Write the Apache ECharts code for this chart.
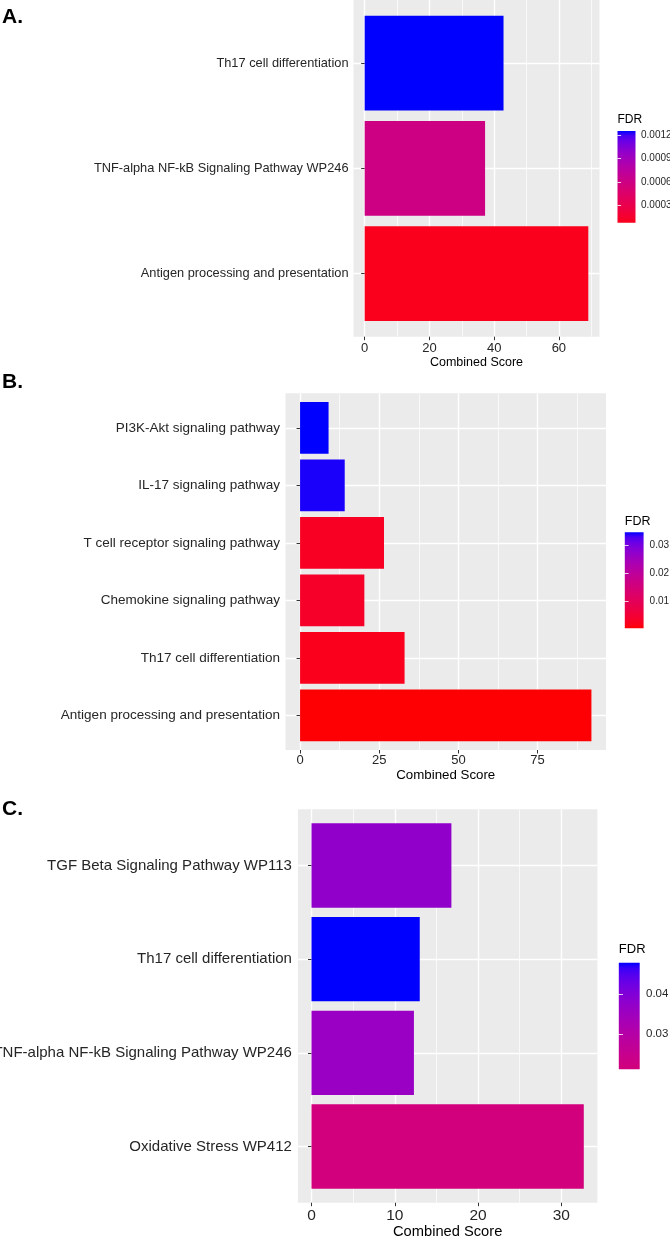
<!DOCTYPE html>
<html>
<head>
<meta charset="utf-8">
<title>Combined Score / FDR</title>
<script src="https://cdn.jsdelivr.net/npm/echarts@6.0.0/dist/echarts.min.js"></script>
<style>
  html, body { margin: 0; padding: 0; background: #fff; }
  #chart { width: 670px; height: 1239px; }
</style>
</head>
<body>
<div id="chart"></div>
<script>
// ---- data ----
// panel A
const aCategories = ['Th17 cell differentiation', 'TNF-alpha NF-kB Signaling Pathway WP246', 'Antigen processing and presentation'];
const aScores = [42.9, 37.2, 69.1];
const aFdr = [0.00126, 0.00060, 0.00007];
const aScoreTicks = [0, 20, 40, 60];
const aScoreMinor = [10, 30, 50, 70];
const aFdrTicks = [0.0003, 0.0006, 0.0009, 0.0012];

// panel B
const bCategories = ['PI3K-Akt signaling pathway', 'IL-17 signaling pathway', 'T cell receptor signaling pathway',
  'Chemokine signaling pathway', 'Th17 cell differentiation', 'Antigen processing and presentation'];
const bScores = [9.0, 14.1, 26.5, 20.3, 33.0, 92.0];
const bFdr = [0.0345, 0.0339, 0.0027, 0.0035, 0.0020, 0.00025];
const bScoreTicks = [0, 25, 50, 75];
const bScoreMinor = [12.5, 37.5, 62.5, 87.5];
const bFdrTicks = [0.01, 0.02, 0.03];

// panel C
const cCategories = ['TGF Beta Signaling Pathway WP113', 'Th17 cell differentiation',
  'TNF-alpha NF-kB Signaling Pathway WP246', 'Oxidative Stress WP412'];
const cScores = [16.8, 13.0, 12.3, 32.7];
const cFdr = [0.0375, 0.0478, 0.0360, 0.0212];
const cScoreTicks = [0, 10, 20, 30];
const cScoreMinor = [5, 15, 25];
const cFdrTicks = [0.03, 0.04];

const FONT = '"Liberation Sans", Arial, Helvetica, sans-serif';
const PANEL_BG = '#EBEBEB';
const TEXT = '#262626';

// red -> blue gradient interpolated in Lab (like ggplot's scale_fill_gradient)
function toLin(c) { c /= 255; return c <= 0.04045 ? c / 12.92 : Math.pow((c + 0.055) / 1.055, 2.4); }
function fromLin(c) {
  c = c <= 0.0031308 ? 12.92 * c : 1.055 * Math.pow(c, 1 / 2.4) - 0.055;
  return Math.round(Math.max(0, Math.min(1, c)) * 255);
}
function rgbToLab(rgb) {
  const r = toLin(rgb[0]), g = toLin(rgb[1]), b = toLin(rgb[2]);
  const f = t => t > 0.008856 ? Math.cbrt(t) : 7.787 * t + 16 / 116;
  const fx = f((0.4124 * r + 0.3576 * g + 0.1805 * b) / 0.95047);
  const fy = f(0.2126 * r + 0.7152 * g + 0.0722 * b);
  const fz = f((0.0193 * r + 0.1192 * g + 0.9505 * b) / 1.08883);
  return [116 * fy - 16, 500 * (fx - fy), 200 * (fy - fz)];
}
function labToHex(lab) {
  const fy = (lab[0] + 16) / 116, fx = fy + lab[1] / 500, fz = fy - lab[2] / 200;
  const inv = t => t * t * t > 0.008856 ? t * t * t : (t - 16 / 116) / 7.787;
  const X = 0.95047 * inv(fx), Y = inv(fy), Z = 1.08883 * inv(fz);
  const rgb = [
    fromLin(3.2406 * X - 1.5372 * Y - 0.4986 * Z),
    fromLin(-0.9689 * X + 1.8758 * Y + 0.0415 * Z),
    fromLin(0.0557 * X - 0.2040 * Y + 1.0570 * Z)
  ];
  return '#' + rgb.map(v => v.toString(16).padStart(2, '0')).join('');
}
const LOW = rgbToLab([255, 0, 0]);
const HIGH = rgbToLab([0, 0, 255]);
function fdrColor(t) {
  return labToHex(LOW.map((v, i) => v + (HIGH[i] - v) * t));
}
const ramp = [];
for (let i = 0; i <= 20; i++) ramp.push(fdrColor(i / 20));

// ---- layout per panel ----
const panels = [
  {
    cats: aCategories, scores: aScores, fdr: aFdr, ticks: aScoreTicks, minor: aScoreMinor, fdrTicks: aFdrTicks,
    letter: 'A.', letterTop: 7,
    box: { left: 353.5, top: 0, width: 246, height: 336.7 },
    legend: { left: 617.5, top: 131, width: 18, height: 91.7 }, legendTitleTop: 114,
    font: { y: 12.8, x: 13, name: 12.5, leg: 10, legTitle: 12 },
    gap: { y: 5, x: 5, name: 19, leg: 5.5 }
  },
  {
    cats: bCategories, scores: bScores, fdr: bFdr, ticks: bScoreTicks, minor: bScoreMinor, fdrTicks: bFdrTicks,
    letter: 'B.', letterTop: 372,
    box: { left: 285.5, top: 393.3, width: 320.5, height: 356.7 },
    legend: { left: 624.8, top: 532.3, width: 18.8, height: 96 }, legendTitleTop: 515,
    font: { y: 13.5, x: 13, name: 13.3, leg: 10, legTitle: 12.5 },
    gap: { y: 5.5, x: 4, name: 19, leg: 6 }
  },
  {
    cats: cCategories, scores: cScores, fdr: cFdr, ticks: cScoreTicks, minor: cScoreMinor, fdrTicks: cFdrTicks,
    letter: 'C.', letterTop: 799,
    box: { left: 297.9, top: 809.3, width: 299.5, height: 393.4 },
    legend: { left: 618.8, top: 962.7, width: 20.9, height: 106.6 }, legendTitleTop: 943,
    font: { y: 15, x: 15.5, name: 14.7, leg: 11.5, legTitle: 13 },
    gap: { y: 6, x: 5, name: 22, leg: 6.3 }
  }
];

const option = {
  animation: false,
  backgroundColor: '#fff',
  textStyle: { fontFamily: FONT },
  title: [], grid: [], xAxis: [], yAxis: [], series: [], visualMap: []
};

panels.forEach((p, k) => {
  const g = k * 3;
  const ax = k * 4;
  const n = p.cats.length;
  const maxScore = Math.max(...p.scores);
  const xMin = -0.05 * maxScore;
  const xMax = 1.05 * maxScore;
  const unit = p.box.height / (n + 0.2);
  const fdrMin = Math.min(...p.fdr);
  const fdrMax = Math.max(...p.fdr);
  const idx = p.cats.map((c, i) => i + 1);

  // colour bar: only the data range, coloured on the 0..max scale
  const stops = [];
  for (let i = 0; i <= 20; i++) {
    const v = fdrMin + (fdrMax - fdrMin) * i / 20;
    stops.push({ offset: i / 20, color: fdrColor(v / fdrMax) });
  }

  option.grid.push(
    { left: p.box.left, top: p.box.top, width: p.box.width, height: p.box.height,
      show: true, backgroundColor: PANEL_BG, borderWidth: 0, containLabel: false, outerBoundsMode: 'none' },
    { left: p.box.left, top: p.box.top + 0.1 * unit, width: p.box.width, height: n * unit,
      containLabel: false, outerBoundsMode: 'none' },
    { left: p.legend.left, top: p.legend.top, width: p.legend.width, height: p.legend.height,
      show: true, borderWidth: 0, containLabel: false, outerBoundsMode: 'none',
      backgroundColor: new echarts.graphic.LinearGradient(0, 1, 0, 0, stops) }
  );

  option.xAxis.push(
    {
      gridIndex: g, type: 'value', min: xMin, max: xMax, position: 'bottom',
      axisLine: { show: false },
      axisTick: { show: true, customValues: p.ticks, length: 3.5, lineStyle: { color: '#333', width: 1 } },
      axisLabel: { customValues: p.ticks, formatter: v => String(v), margin: p.gap.x,
        fontSize: p.font.x, color: TEXT, fontFamily: FONT },
      splitLine: { show: true, lineStyle: { color: '#fff', width: 1.4 } },
      name: 'Combined Score', nameLocation: 'middle', nameGap: p.gap.name,
      nameTextStyle: { fontSize: p.font.name, color: '#000', fontFamily: FONT }
    },
    {
      gridIndex: g, type: 'value', min: xMin, max: xMax, position: 'top',
      axisLine: { show: false },
      axisTick: { show: false, customValues: p.minor },
      axisLabel: { show: false, customValues: p.minor },
      splitLine: { show: true, lineStyle: { color: '#fff', width: 0.7 } }
    },
    { gridIndex: g + 1, type: 'value', min: xMin, max: xMax, show: false },
    { gridIndex: g + 2, type: 'value', min: 0, max: 1, show: false }
  );

  option.yAxis.push(
    {
      gridIndex: g, type: 'value', min: 0.4, max: n + 0.6, inverse: true,
      axisLine: { show: false },
      axisTick: { show: true, customValues: idx, length: 3.5, lineStyle: { color: '#333', width: 1 } },
      axisLabel: { customValues: idx, formatter: v => p.cats[Math.round(v) - 1], margin: p.gap.y,
        fontSize: p.font.y, color: TEXT, fontFamily: FONT },
      splitLine: { show: true, lineStyle: { color: '#fff', width: 1.4 } }
    },
    { gridIndex: g + 1, type: 'category', data: p.cats, inverse: true, show: false },
    {
      gridIndex: g + 2, type: 'value', position: 'right', min: fdrMin, max: fdrMax,
      axisLine: { show: false },
      axisTick: { show: true, inside: true, customValues: p.fdrTicks, length: p.legend.width / 5,
        lineStyle: { color: 'rgba(255,255,255,0.8)', width: 1 } },
      axisLabel: { customValues: p.fdrTicks, formatter: v => String(v), margin: p.gap.leg,
        fontSize: p.font.leg, color: TEXT, fontFamily: FONT },
      splitLine: { show: false }
    },
    {
      gridIndex: g + 2, type: 'value', position: 'left', min: fdrMin, max: fdrMax,
      axisLine: { show: false },
      axisTick: { show: true, inside: true, customValues: p.fdrTicks, length: p.legend.width / 5,
        lineStyle: { color: 'rgba(255,255,255,0.8)', width: 1 } },
      axisLabel: { show: false, customValues: p.fdrTicks },
      splitLine: { show: false }
    }
  );

  option.series.push({
    type: 'bar',
    xAxisIndex: ax + 2,
    yAxisIndex: ax + 1,
    barCategoryGap: '10%',
    encode: { x: 0, y: 1 },
    data: p.cats.map((c, i) => [p.scores[i], c, p.fdr[i]]),
    silent: true
  });

  option.visualMap.push({
    type: 'continuous', show: false, seriesIndex: k, dimension: 2,
    min: 0, max: fdrMax, inRange: { color: ramp }
  });

  option.title.push(
    { text: p.letter, left: 2, top: p.letterTop, padding: 0,
      textStyle: { fontSize: 21, fontWeight: 'bold', color: '#000', fontFamily: FONT } },
    { text: 'FDR', left: p.legend.left, top: p.legendTitleTop, padding: 0,
      textStyle: { fontSize: p.font.legTitle, fontWeight: 'normal', color: '#000', fontFamily: FONT } }
  );
});

const chart = echarts.init(document.getElementById('chart'), null, { renderer: 'canvas' });
chart.setOption(option);
window.addEventListener('resize', () => chart.resize());
</script>
</body>
</html>
